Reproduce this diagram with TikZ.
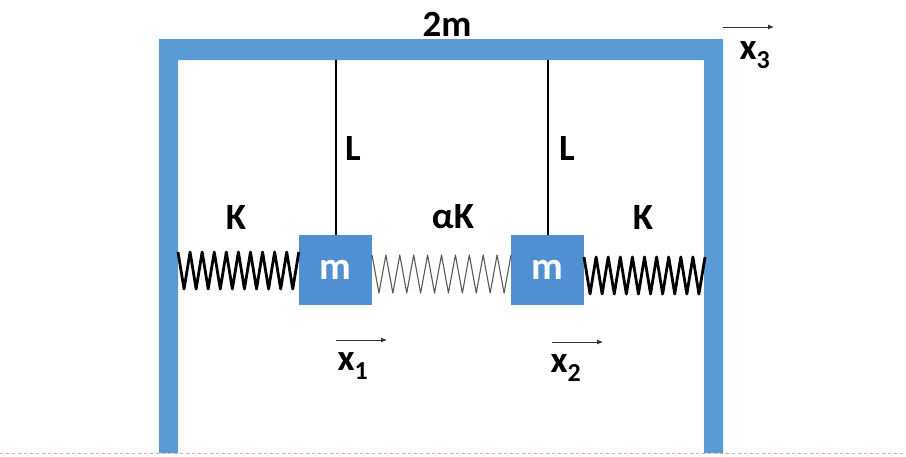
\documentclass[tikz,border=0pt]{standalone}
\usepackage{fontspec}
\setmainfont{Carlito}
\usetikzlibrary{calc,arrows.meta}
\definecolor{frameblue}{HTML}{5B9BD5}
\definecolor{massblue}{HTML}{4F8FD2}
\definecolor{pagerule}{HTML}{F2A0A8}
\newcommand{\coilpath}[4]{(#1) \foreach \i in {1,...,#3} { -- ($(#1)!\i/#3!(#2)+(0,{#4*mod(\i,2)})$) }}
\tikzset{
  x=1pt,y=-1pt,
  massbox/.style={fill=massblue,draw=none,minimum width=73pt,minimum height=70pt,inner sep=0pt,text=white,font=\fontsize{39}{39}\bfseries\selectfont},
  lab/.style={inner sep=0pt,font=\fontsize{37}{37}\bfseries\selectfont},
  rod/.style={line width=2pt,black},
  stiff/.style={line width=2.8pt,black,line join=round},
  soft/.style={line width=1.1pt,black!65,line join=round},
  motion/.style={line width=0.8pt,black!80,-{Latex[length=6pt,width=5pt]}}
}
\begin{document}
\begin{tikzpicture}
\useasboundingbox (0,0) rectangle (906,456);
\fill[white] (0,0) rectangle (906,456);
\draw[pagerule,dashed,line width=1pt] (0,453.5) -- (906,453.5);
\fill[frameblue] (159,453) -- (159,39) -- (723,39) -- (723,453) -- (704,453) -- (704,60) -- (178,60) -- (178,453) -- cycle;
\node[massbox] (m1) at (335.5,270) {m};
\node[massbox] (m2) at (547.5,270) {m};
\coordinate (r1) at (335.5,60);
\coordinate (r2) at (548,60);
\draw[rod] (r1) -- (m1.north);
\draw[rod] (r2) -- (r2 |- m2.north);
\coordinate (wl) at (178,252);
\coordinate (ml) at (wl -| m1.west);
\coordinate (mca) at (372,255);
\coordinate (mcb) at (511,255);
\coordinate (wr) at (705,257);
\coordinate (mr) at (584,257);
\draw[stiff] \coilpath{wl}{ml}{20}{37};
\draw[soft] \coilpath{mca}{mcb}{20}{38};
\draw[stiff] \coilpath{mr}{wr}{20}{37};
\node[lab] (t2m) at (447,24) {2m};
\node[lab] (l1) at (353,148) {L};
\node[lab] (l2) at (567,148) {L};
\node[lab] (k1) at (236,217) {K};
\node[lab] (ak) at (453,217) {αK};
\node[lab] (k2) at (643,217) {K};
\node[lab] (x1) at (353,366) {x\textsubscript{1}};
\node[lab] (x2) at (566,368) {x\textsubscript{2}};
\node[lab] (x3) at (755,55) {x\textsubscript{3}};
\coordinate (a1s) at (336,340); \coordinate (a1e) at (387,340);
\coordinate (a2s) at (552,342); \coordinate (a2e) at (603,342);
\coordinate (a3s) at (723,27); \coordinate (a3e) at (774,27);
\draw[motion] (a1s) -- (a1e);
\draw[motion] (a2s) -- (a2e);
\draw[motion] (a3s) -- (a3e);
\end{tikzpicture}
\end{document}
